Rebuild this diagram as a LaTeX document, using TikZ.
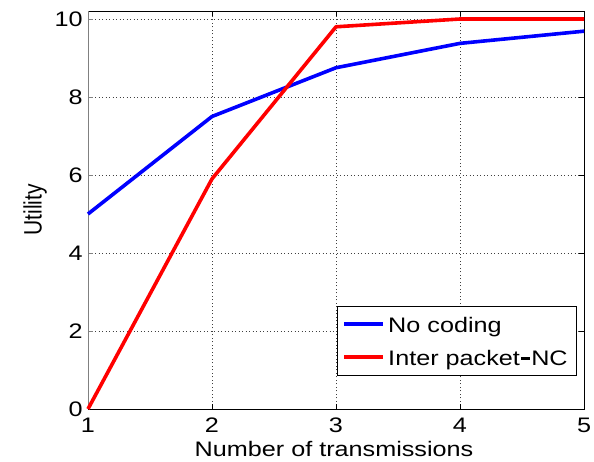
\documentclass[tikz,border=0pt]{standalone}
\usepackage{fontspec}
\setmainfont{Liberation Sans}
\usepackage{tikz}

\tikzset{
  lbl/.style={font=\fontsize{21}{24}\selectfont, inner sep=0pt, xscale=1.2},
  gridline/.style={dash pattern=on 1pt off 2.5pt, line width=0.7pt, black!75},
  frame/.style={line width=0.9pt},
  curve/.style={line width=3.6pt, line join=round},
}

\begin{document}
\begin{tikzpicture}[x=1pt,y=1pt]
  \useasboundingbox (0,0) rectangle (594,462);

  \begin{scope}[x=124pt,y=39pt,shift={(-36pt,53pt)}]
    % grid
    \foreach \i in {2,3,4}
      \draw[gridline] (\i,0) -- (\i,10.2);
    \foreach \j in {2,4,...,10}
      \draw[gridline] (1,\j) -- (5,\j);

    % ticks
    \foreach \i in {1,...,5} {
      \draw[frame] (\i,0) -- ++(0pt,5pt);
      \draw[frame] (\i,10.2) -- ++(0pt,-5pt);
      \node[lbl, anchor=north] (xt\i) at ([yshift=-9pt]\i,0) {\i};
    }
    \foreach \j in {0,2,...,10} {
      \draw[frame, black!50] (1,\j) -- ++(5pt,0pt);
      \draw[frame] (5,\j) -- ++(-5pt,0pt);
      \node[lbl, anchor=east] (yt\j) at ([xshift=-5pt]1,\j) {\j};
    }

    % axes box
    \draw[frame] (1,0) -- (5,0) -- (5,10.2) -- (1,10.2);
    \draw[frame, black!50] (1,0) -- (1,10.2);

    % data
    \draw[curve, blue] (1,5) -- (2,7.5) -- (3,8.75) -- (4,9.375) -- (5,9.6875);
    \draw[curve, red] (1,0) -- (2,5.9) -- (3,9.8) -- (4,10) -- (5,10);
  \end{scope}

  % axis labels
  \node[lbl, anchor=base] (xlabel) at (334,5) {Number of transmissions};
  \node[lbl, rotate=90] (ylabel) at (35,252) {Utility};

  % legend
  \draw[frame, fill=white] (337,87) rectangle (576,156);
  \coordinate (lb1) at (344,138);
  \coordinate (lb2) at (344,105);
  \draw[curve, blue] (lb1) -- ++(39pt,0pt);
  \draw[curve, red] (lb2) -- ++(39pt,0pt);
  \node[lbl, anchor=base west] (leg1) at (388,129) {No coding};
  \node[lbl, anchor=base west] (leg2) at (388,96) {Inter packet\kern0.05em\raisebox{0.3em}{\rule{0.35em}{0.12em}}\kern0.05em NC};
\end{tikzpicture}
\end{document}
